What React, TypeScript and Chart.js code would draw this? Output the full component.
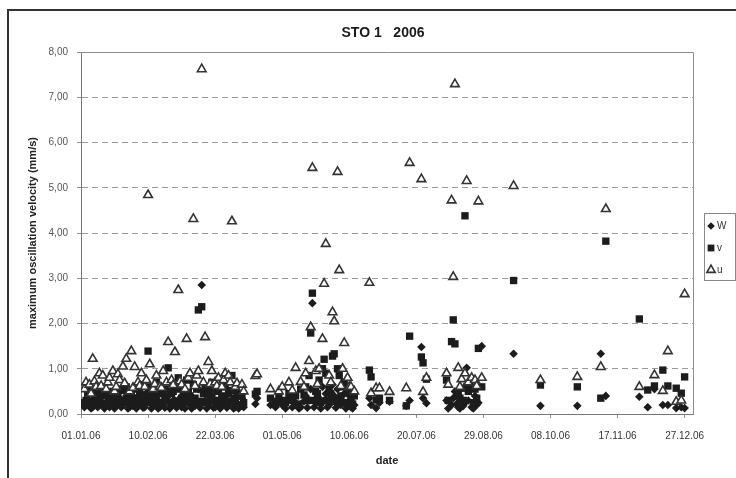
import React, { useEffect, useRef } from 'react';
import { Chart, registerables } from 'chart.js';

Chart.register(...registerables);

// measurement day, counted in days since 01.01.06
const measurementDay = [
  2, 3, 4, 5, 6, 7, 8, 9, 10, 11,
  12, 13, 14, 15, 16, 17, 18, 19, 20, 21,
  22, 23, 24, 25, 26, 27, 28, 29, 30, 31,
  32, 33, 34, 35, 36, 37, 38, 39, 40, 41,
  42, 43, 44, 45, 46, 47, 48, 49, 50, 51,
  52, 53, 54, 55, 56, 57, 58, 59, 60, 61,
  62, 63, 64, 65, 66, 67, 68, 69, 70, 71,
  72, 73, 74, 75, 76, 77, 78, 79, 80, 81,
  82, 83, 84, 85, 86, 87, 88, 89, 90, 91,
  92, 93, 94, 96, 97, 104, 105,
  113, 116, 118, 120, 122, 124, 126, 128, 130, 131,
  133, 134, 135, 136, 137, 138, 139, 140, 141, 142,
  143, 144, 145, 146, 147, 148, 149, 150, 151, 152,
  153, 154, 155, 156, 157, 158, 159, 160, 161, 162,
  163, 172, 173, 176, 178, 184, 194, 196, 203, 204,
  206,
  218, 219, 221, 222, 223, 224, 225, 226, 227, 228,
  229, 230, 231, 233, 234, 235, 236, 237, 239, 258,
  274, 296, 310, 313, 333, 338, 342, 347, 350, 355,
  358, 360,
];

const wValues = [
  0.15, 0.20, 0.30, 0.30, 0.12, 0.15, 0.25, 0.35, 0.15, 0.20,
  0.28, 0.45, 0.12, 0.25, 0.35, 0.15, 0.22, 0.30, 0.12, 0.20,
  0.30, 0.35, 0.15, 0.20, 0.28, 0.40, 0.12, 0.15, 0.25, 0.18,
  0.30, 0.12, 0.20, 0.32, 0.45, 0.14, 0.15, 0.25, 0.50, 0.30,
  0.12, 0.20, 0.28, 0.35, 0.12, 0.15, 0.22, 0.25, 0.14, 0.32,
  0.40, 0.12, 0.20, 0.30, 0.30, 0.14, 0.25, 0.35, 0.15, 0.22,
  0.12, 0.45, 0.28, 0.20, 0.12, 0.35, 0.18, 0.30, 0.55, 0.14,
  2.85, 0.25, 0.30, 0.12, 0.20, 0.35, 0.40, 0.14, 0.15, 0.28,
  0.30, 0.12, 0.20, 0.32, 0.35, 0.14, 0.20, 0.28, 0.30, 0.12,
  0.15, 0.25, 0.12, 0.35, 0.15, 0.22, 0.35,
  0.20, 0.15, 0.25, 0.20, 0.12, 0.35, 0.15, 0.25, 0.12, 0.15,
  0.28, 0.40, 0.14, 0.30, 0.55, 2.45, 0.15, 0.25, 0.35, 0.35,
  0.12, 0.60, 0.30, 0.45, 0.15, 0.20, 0.30, 0.65, 0.40, 0.14,
  0.55, 0.35, 0.20, 0.25, 0.45, 0.12, 0.20, 0.30, 0.15, 0.12,
  0.20, 0.35, 0.20, 0.13, 0.25, 0.27, 0.18, 0.30, 1.48, 0.35,
  0.24,
  0.30, 0.12, 0.20, 0.35, 0.50, 0.22, 0.15, 0.12, 0.29, 0.18,
  0.25, 1.02, 0.30, 0.15, 0.12, 0.40, 0.20, 0.25, 1.50, 1.33,
  0.18, 0.18, 1.33, 0.40, 0.38, 0.15, 0.55, 0.20, 0.20, 0.13,
  0.15, 0.13,
];

const vValues = [
  0.25, 0.30, 0.45, 0.55, 0.20, 0.25, 0.40, 0.45, 0.30, 0.35,
  0.50, 0.60, 0.22, 0.40, 0.48, 0.20, 0.38, 0.50, 0.28, 0.40,
  0.45, 0.55, 0.25, 0.30, 0.52, 0.60, 0.30, 0.25, 0.45, 0.35,
  0.55, 0.22, 0.35, 0.48, 0.65, 0.28, 0.30, 0.42, 1.39, 0.60,
  0.25, 0.40, 0.50, 0.70, 0.22, 0.25, 0.45, 0.50, 0.30, 0.55,
  1.02, 0.26, 0.45, 0.50, 0.60, 0.24, 0.80, 0.55, 0.35, 0.40,
  0.28, 0.75, 0.48, 0.40, 0.30, 0.65, 0.35, 0.55, 2.30, 0.28,
  2.37, 0.45, 0.60, 0.25, 0.45, 0.55, 0.70, 0.30, 0.30, 0.50,
  0.55, 0.26, 0.40, 0.60, 0.65, 0.28, 0.45, 0.52, 0.85, 0.25,
  0.35, 0.45, 0.20, 0.40, 0.25, 0.44, 0.50,
  0.35, 0.28, 0.40, 0.30, 0.25, 0.45, 0.30, 0.40, 0.22, 0.55,
  0.42, 0.60, 0.30, 0.85, 1.79, 2.67, 0.30, 0.50, 0.45, 0.75,
  0.25, 1.00, 1.21, 0.90, 0.30, 0.55, 0.45, 1.28, 1.33, 0.28,
  1.00, 0.85, 0.40, 0.60, 0.70, 0.25, 0.50, 0.45, 0.30, 0.22,
  0.40, 0.97, 0.82, 0.31, 0.35, 0.30, 0.18, 1.72, 1.26, 1.13,
  0.77,
  0.75, 0.30, 1.60, 2.08, 1.55, 0.40, 0.45, 0.35, 0.57, 0.30,
  4.38, 0.60, 0.50, 0.60, 0.25, 0.55, 0.35, 1.45, 0.60, 2.95,
  0.64, 0.60, 0.35, 3.82, 2.10, 0.53, 0.62, 0.97, 0.62, 0.57,
  0.46, 0.82,
];

const uValues: (number | null)[] = [
  0.55, 0.70, null, 0.65, 0.45, 1.22, 0.72, 0.60, null, 0.90,
  0.62, 0.85, null, 0.55, 0.70, 0.80, null, 0.95, 0.50, 0.60,
  0.88, 0.75, null, 1.05, 0.68, 1.22, null, 0.50, 1.39, 0.58,
  1.04, null, 0.70, 0.62, 0.90, null, 0.60, 0.75, 4.84, 1.10,
  null, 0.55, 0.66, 0.85, null, 0.60, 0.58, 0.95, null, 0.70,
  1.59, null, 0.75, 0.64, 1.37, null, 2.74, 0.72, 0.65, null,
  0.55, 1.66, 0.80, 0.90, null, 4.31, 0.62, 0.85, 0.95, null,
  7.62, 0.70, 1.70, null, 1.15, 0.66, 0.95, null, 0.70, 0.62,
  0.80, null, 0.60, 0.75, 0.90, null, 0.85, 0.70, 4.26, null,
  0.60, 0.68, null, 0.65, 0.50, 0.84, 0.88,
  0.55, null, 0.50, 0.60, null, 0.70, 0.52, 1.02, null, 0.71,
  0.60, 0.90, null, 1.17, 1.92, 5.44, null, 0.95, 0.66, 1.00,
  null, 1.66, 2.88, 3.76, null, 0.85, 0.70, 2.25, 2.05, null,
  5.35, 3.18, 0.62, 1.00, 1.57, null, 0.80, 0.60, 0.60, null,
  0.50, 2.90, 0.46, 0.57, 0.57, 0.49, 0.57, 5.55, 5.19, 0.49,
  0.80,
  0.90, 0.65, 4.72, 3.03, 7.29, null, 1.02, 0.60, 0.77, null,
  0.90, 5.15, 0.70, 0.80, null, 0.75, 0.62, 4.70, 0.80, 5.04,
  0.75, 0.82, 1.04, 4.53, 0.60, null, 0.86, 0.51, 1.39, 0.27,
  0.30, 2.65,
];

const chartTitle = 'STO 1   2006';
const seriesNames = ['W', 'v', 'u'];
const xTickLabels = [
  '01.01.06', '10.02.06', '22.03.06', '01.05.06', '10.06.06',
  '20.07.06', '29.08.06', '08.10.06', '17.11.06', '27.12.06',
];
const xTickStep = 40;
const xMin = 0;
const xMax = 365;
const yTickLabels = ['0,00', '1,00', '2,00', '3,00', '4,00', '5,00', '6,00', '7,00', '8,00'];

const FONT = "'Liberation Sans', Arial, sans-serif";
const MARK = '#1c1c1c';

function toPoints(vals: (number | null)[]) {
  return measurementDay
    .map((d, i) => ({ x: d, y: vals[i] }))
    .filter((p) => p.y !== null && p.y !== undefined);
}

function drawMarker(ctx: CanvasRenderingContext2D, style: string, x: number, y: number, r: number) {
  ctx.beginPath();
  if (style === 'rectRot') {
    ctx.moveTo(x, y - r);
    ctx.lineTo(x + r, y);
    ctx.lineTo(x, y + r);
    ctx.lineTo(x - r, y);
    ctx.closePath();
    ctx.fillStyle = MARK;
    ctx.fill();
  } else if (style === 'rect') {
    const s = r * Math.SQRT1_2;
    ctx.rect(x - s, y - s, 2 * s, 2 * s);
    ctx.fillStyle = MARK;
    ctx.fill();
  } else {
    const w = r * Math.sqrt(3) / 2;
    ctx.moveTo(x, y - r);
    ctx.lineTo(x + w, y + r / 2);
    ctx.lineTo(x - w, y + r / 2);
    ctx.closePath();
    ctx.fillStyle = '#ffffff';
    ctx.fill();
    ctx.lineWidth = 1.6;
    ctx.strokeStyle = '#333333';
    ctx.stroke();
  }
}

const framePlugin = {
  id: 'frame',
  beforeDraw(chart: any) {
    const ctx = chart.ctx as CanvasRenderingContext2D;
    ctx.save();
    ctx.fillStyle = '#ffffff';
    ctx.fillRect(0, 0, chart.width, chart.height);
    ctx.strokeStyle = '#333333';
    ctx.lineWidth = 2;
    ctx.beginPath();
    ctx.moveTo(8, chart.height);
    ctx.lineTo(8, 10);
    ctx.lineTo(chart.width, 10);
    ctx.stroke();
    ctx.restore();
  },
  beforeDatasetsDraw(chart: any) {
    const { ctx, chartArea } = chart;
    ctx.save();
    ctx.strokeStyle = '#8c8c8c';
    ctx.lineWidth = 1;
    ctx.setLineDash([]);
    ctx.beginPath();
    ctx.moveTo(chartArea.left, chartArea.top + 0.5);
    ctx.lineTo(chartArea.right + 0.5, chartArea.top + 0.5);
    ctx.lineTo(chartArea.right + 0.5, chartArea.bottom);
    ctx.stroke();
    ctx.restore();
  },
  afterDraw(chart: any) {
    const ctx = chart.ctx as CanvasRenderingContext2D;
    const { chartArea } = chart;
    ctx.save();
    // title
    ctx.font = `bold 14px ${FONT}`;
    ctx.fillStyle = '#1a1a1a';
    ctx.textAlign = 'center';
    ctx.textBaseline = 'middle';
    ctx.fillText(chartTitle, (chartArea.left + chartArea.right) / 2 - 4, 33);
    // legend
    ctx.textAlign = 'left';
    const bx = 704.5, by = 213.5, bw = 31, bh = 67;
    ctx.strokeStyle = '#888888';
    ctx.lineWidth = 1;
    ctx.strokeRect(bx, by, bw, bh);
    const styles = ['rectRot', 'rect', 'triangle'];
    const radii = [3.8, 4.8, 4.8];
    ctx.font = `10px ${FONT}`;
    seriesNames.forEach((name, i) => {
      const y = 226 + i * 22;
      drawMarker(ctx, styles[i], 711, y, radii[i]);
      ctx.fillStyle = '#333333';
      ctx.fillText(name, 717, y);
    });
    ctx.restore();
  },
};

export default function App() {
  const ref = useRef<HTMLCanvasElement | null>(null);

  useEffect(() => {
    document.body.style.margin = '0';
    if (!ref.current) return;
    const chart = new Chart(ref.current, {
      type: 'scatter',
      data: {
        datasets: [
          {
            label: seriesNames[0],
            data: toPoints(wValues),
            pointStyle: 'rectRot',
            pointRadius: 4.3,
            backgroundColor: MARK,
            borderColor: MARK,
            borderWidth: 0,
            order: 3,
          },
          {
            label: seriesNames[1],
            data: toPoints(vValues),
            pointStyle: 'rect',
            pointRadius: 5.2,
            backgroundColor: MARK,
            borderColor: MARK,
            borderWidth: 0,
            order: 2,
          },
          {
            label: seriesNames[2],
            data: toPoints(uValues),
            pointStyle: 'triangle',
            pointRadius: 5,
            backgroundColor: '#ffffff',
            borderColor: '#333333',
            borderWidth: 1.6,
            order: 1,
          },
        ],
      },
      options: {
        responsive: false,
        animation: false,
        devicePixelRatio: 1,
        layout: { padding: { left: 0, right: 43, top: 52, bottom: 0 } },
        plugins: {
          legend: { display: false },
          tooltip: { enabled: false },
          title: { display: false },
        },
        scales: {
          x: {
            type: 'linear',
            min: xMin,
            max: xMax,
            afterBuildTicks: (scale: any) => {
              scale.ticks = xTickLabels.map((_, i) => ({ value: i * xTickStep }));
            },
            afterFit: (scale: any) => {
              scale.height = 64;
            },
            ticks: {
              callback: (value: any) => xTickLabels[Math.round(Number(value) / xTickStep)] ?? '',
              color: '#333333',
              font: { family: FONT, size: 10 },
              padding: 12,
              maxRotation: 0,
              autoSkip: false,
            },
            grid: {
              drawOnChartArea: false,
              drawTicks: true,
              tickLength: 4,
              tickColor: '#8c8c8c',
            },
            border: { display: true, color: '#777777', width: 1 },
            title: {
              display: true,
              text: 'date',
              color: '#222222',
              font: { family: FONT, size: 11, weight: 'bold' },
              padding: { top: 8, bottom: 10 },
            },
          },
          y: {
            min: 0,
            max: 8,
            afterFit: (scale: any) => {
              scale.width = 81;
            },
            ticks: {
              stepSize: 1,
              callback: (value: any) => yTickLabels[Math.round(Number(value))] ?? '',
              color: '#555555',
              font: { family: FONT, size: 10 },
              padding: 9,
            },
            grid: {
              color: (c: any) => (c.tick && (c.tick.value === 0 || c.tick.value === 8) ? 'rgba(0,0,0,0)' : '#9a9a9a'),
              drawTicks: true,
              tickLength: 4,
              tickColor: '#8c8c8c',
              tickBorderDash: [],
            } as any,
            border: { display: true, color: '#777777', width: 1, dash: [6, 4] },
            title: {
              display: true,
              text: 'maximum oscillation velocity (mm/s)',
              color: '#222222',
              font: { family: FONT, size: 11, weight: 'bold' },
              padding: { top: 26, bottom: 0 },
            },
          },
        },
      } as any,
      plugins: [framePlugin],
    });
    return () => chart.destroy();
  }, []);

  return (
    <div style={{ width: 736, height: 478 }}>
      <canvas ref={ref} width={736} height={478} style={{ display: 'block' }} />
    </div>
  );
}
